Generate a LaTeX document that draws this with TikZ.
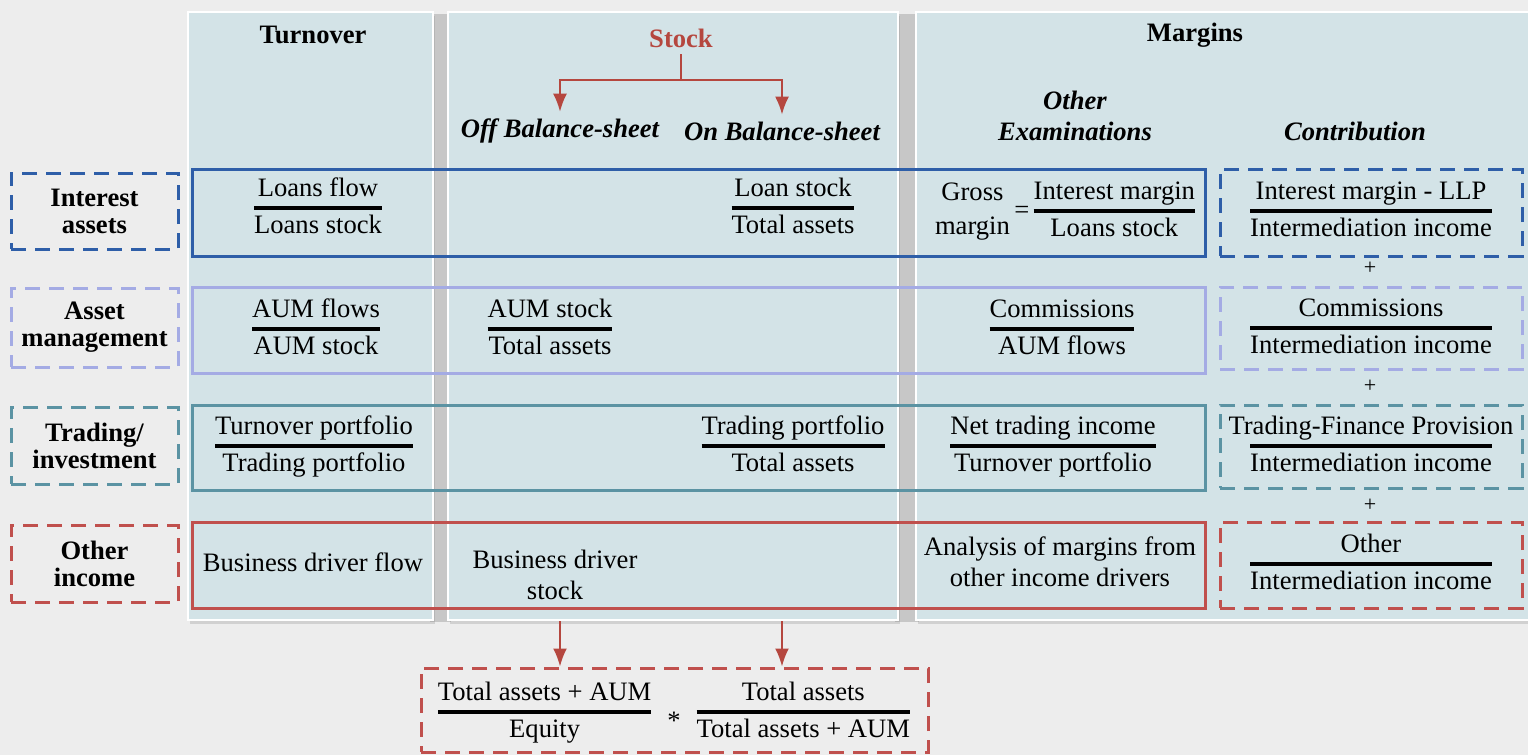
\documentclass[tikz,border=0pt]{standalone}
\usepackage{fontspec}
\setmainfont{Liberation Serif}
\usetikzlibrary{fit,shadows,arrows.meta}

\definecolor{bgGray}{HTML}{EDEDED}
\definecolor{panelBlue}{HTML}{D3E3E7}
\definecolor{intBlue}{HTML}{2E5EA8}
\definecolor{amLav}{HTML}{A4ABE4}
\definecolor{trTeal}{HTML}{5B93A3}
\definecolor{oiRed}{HTML}{C0504D}
\definecolor{stockRed}{HTML}{B5473F}

\setlength{\arrayrulewidth}{1.7pt}
\renewcommand{\arraystretch}{1.08}
\newcommand{\ratio}[2]{\begin{tabular}{@{}c@{}}#1\\\hline #2\end{tabular}}
\newcommand{\share}[1]{\ratio{\makebox[0pt]{#1}}{Intermediation income}}

\begin{document}
\begin{tikzpicture}[x=0.5pt, y=-0.5pt,
  every node/.style={font=\fontsize{13.3}{15.6}\selectfont},
  head/.style={font=\fontsize{13.3}{15.6}\selectfont\bfseries},
  subhead/.style={font=\fontsize{13.3}{15.6}\selectfont\bfseries\itshape, align=center},
  panel/.style={fill=panelBlue, draw=white, line width=1pt, inner sep=0pt,
    drop shadow={opacity=0.25, shadow xshift=1pt, shadow yshift=-2pt}},
  band/.style={draw=#1, line width=1.5pt, inner sep=0pt},
  dbox/.style={draw=#1, line width=1.5pt, dash pattern=on 7.5pt off 4.5pt, inner sep=0pt},
  rowlab/.style={font=\fontsize{13.3}{13.5}\selectfont\bfseries, align=center},
  arr/.style={draw=stockRed, line width=1pt, -{Latex[length=9pt,width=7pt]}}
]
  \useasboundingbox[fill=bgGray] (0,0) rectangle (1528,755);

  % column panels
  \fill[black!22] (430,14) rectangle (451,622);
  \fill[black!22] (895,14) rectangle (919,622);
  \node[panel, fit={(188,12) (433,620)}] (turn) {};
  \node[panel, fit={(448,12) (898,620)}] (stk) {};
  \node[panel, fit={(916,12) (1540,620)}] (marg) {};

  % headings
  \node[head] (turnhead) at (313,35) {Turnover};
  \node[head, text=stockRed] (stock) at (681,38) {Stock};
  \node[head] (marghead) at (1195,35) {Margins};
  \node[subhead] (off) at (560,131) {Off Balance-sheet};
  \node[subhead] (on) at (782,131) {On Balance-sheet};
  \node[subhead] (otherex) at (1075,116) {Other\\Examinations};
  \node[subhead] (contrib) at (1355,131) {Contribution};

  \coordinate (split) at (681,80);
  \draw[arr] (stock.south) -- (split) -| (off.north);
  \draw[arr] (stock.south) -- (split) -| (on.north);

  % interest assets
  \node[band=intBlue, fit={(192,169) (1205,256)}] (introw) {};
  \node[dbox=intBlue, fit={(11,173) (178,249)}] (intlab) {};
  \node[rowlab] (inttxt) at (intlab) {Interest\\assets};
  \node[dbox=intBlue, fit={(1220,169) (1522,256)}] (intcon) {};
  \node (intturn) at (318,208) {\ratio{Loans flow}{Loans stock}};
  \node (intstock) at (793,208) {\ratio{Loan stock}{Total assets}};
  \node (intmarg) at (1065,211) {\begin{tabular}{@{}c@{}}Gross\\margin\end{tabular}\,=\,\ratio{Interest margin}{Loans stock}};
  \node (intshare) at (1371,211) {\share{Interest margin - LLP}};
  \node[font=\fontsize{11}{12}\selectfont] (plusa) at (1370,268) {+};

  % asset management
  \node[band=amLav, fit={(192,287) (1205,373)}] (amrow) {};
  \node[dbox=amLav, fit={(11,288) (178,367)}] (amlab) {};
  \node[rowlab] (amtxt) at (amlab) {Asset\\management};
  \node[dbox=amLav, fit={(1220,287) (1522,369)}] (amcon) {};
  \node (amturn) at (316,329) {\ratio{AUM flows}{AUM stock}};
  \node (amstock) at (550,329) {\ratio{AUM stock}{Total assets}};
  \node (ammarg) at (1062,329) {\ratio{Commissions}{AUM flows}};
  \node (amshare) at (1371,328) {\share{Commissions}};
  \node[font=\fontsize{11}{12}\selectfont] (plusb) at (1370,386) {+};

  % trading / investment
  \node[band=trTeal, fit={(192,405) (1205,490)}] (trrow) {};
  \node[dbox=trTeal, fit={(11,407) (178,484)}] (trlab) {};
  \node[rowlab] (trtxt) at (trlab) {Trading/\\investment};
  \node[dbox=trTeal, fit={(1220,405) (1522,488)}] (trcon) {};
  \node (trturn) at (314,446) {\ratio{Turnover portfolio}{Trading portfolio}};
  \node (trstock) at (793,446) {\ratio{Trading portfolio}{Total assets}};
  \node (trmarg) at (1053,446) {\ratio{Net trading income}{Turnover portfolio}};
  \node (trshare) at (1371,446) {\share{Trading-Finance Provision}};
  \node[font=\fontsize{11}{12}\selectfont] (plusc) at (1370,505) {+};

  % other income
  \node[band=oiRed, fit={(192,522) (1205,608)}] (oirow) {};
  \node[dbox=oiRed, fit={(11,525) (178,602)}] (oilab) {};
  \node[rowlab] (oitxt) at (oilab) {Other\\income};
  \node[dbox=oiRed, fit={(1220,522) (1522,608)}] (oicon) {};
  \node (oiturn) at (313,562) {Business driver flow};
  \node[align=center] (oistock) at (555,575) {Business driver\\stock};
  \node[align=center] (oimarg) at (1060,562) {Analysis of margins from\\other income drivers};
  \node (oishare) at (1371,564) {\share{Other}};

  % leverage
  \node[dbox=oiRed, fit={(421,668) (928,752)}] (lev) {};
  \node (levtxt) at (674,712) {\ratio{Total assets + AUM}{Equity}\hspace{8pt}\raisebox{-5pt}{*}\hspace{8pt}\ratio{Total assets}{Total assets + AUM}};
  \draw[arr] (stk.south -| off) -- (lev.north -| off);
  \draw[arr] (stk.south -| on) -- (lev.north -| on);
\end{tikzpicture}
\end{document}
